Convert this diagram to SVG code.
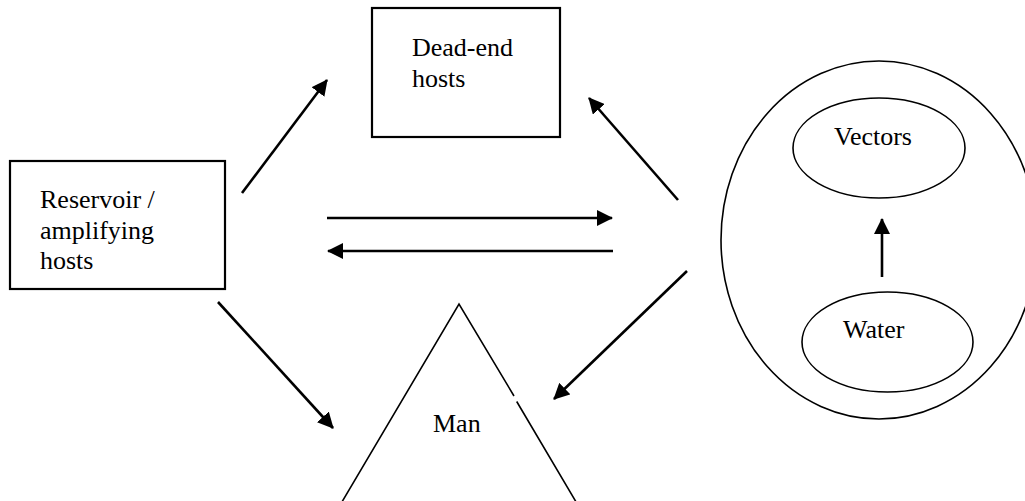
<svg xmlns="http://www.w3.org/2000/svg" width="1025" height="501" viewBox="0 0 1025 501">
  <defs>
    <marker id="head" markerUnits="userSpaceOnUse" markerWidth="16" markerHeight="16" viewBox="0 0 16 16" refX="15" refY="8" orient="auto">
      <path d="M0,0 L16,8 L0,16 Z" fill="#000"/>
    </marker>
    <style>
      .box { fill: #fff; stroke: #000; stroke-width: 2.2; }
      .shape { fill: none; stroke: #000; stroke-width: 1.6; }
      .arrow { fill: none; stroke: #000; stroke-width: 2.6; marker-end: url(#head); }
      .label { font-family: "Liberation Serif", "Times New Roman", serif; font-size: 26px; fill: #000; }
    </style>
  </defs>
  <rect width="1025" height="501" fill="#fff"/>

  <g id="dead-end-hosts">
    <rect class="box" x="372" y="8" width="188" height="129"/>
    <text class="label" x="412" y="56">Dead-end</text>
    <text class="label" x="412" y="87">hosts</text>
  </g>

  <g id="reservoir-hosts">
    <rect class="box" x="10" y="161" width="215" height="128"/>
    <text class="label" x="40" y="208">Reservoir /</text>
    <text class="label" x="40" y="239">amplifying</text>
    <text class="label" x="40" y="269">hosts</text>
  </g>

  <g id="man">
    <path class="shape" d="M336,512 L459,304 L514,396 M516.7,401.5 L582,512"/>
    <text class="label" x="433" y="432">Man</text>
  </g>

  <g id="environment">
    <ellipse class="shape" cx="879" cy="240" rx="158" ry="179"/>
  </g>

  <g id="vectors">
    <ellipse class="shape" cx="879" cy="148" rx="86" ry="50"/>
    <text class="label" x="834" y="145">Vectors</text>
  </g>

  <g id="water">
    <ellipse class="shape" cx="887.5" cy="342" rx="85.5" ry="50"/>
    <text class="label" x="843" y="338">Water</text>
  </g>

  <g id="connectors">
    <line class="arrow" x1="242" y1="193" x2="327" y2="80"/>
    <line class="arrow" x1="327" y1="218" x2="612" y2="218"/>
    <line class="arrow" x1="613" y1="251" x2="328" y2="251"/>
    <line class="arrow" x1="218" y1="302" x2="333" y2="428"/>
    <line class="arrow" x1="678" y1="200" x2="589" y2="98"/>
    <line class="arrow" x1="687" y1="271" x2="554" y2="399"/>
    <line class="arrow" x1="882" y1="277" x2="882" y2="219"/>
  </g>
</svg>
